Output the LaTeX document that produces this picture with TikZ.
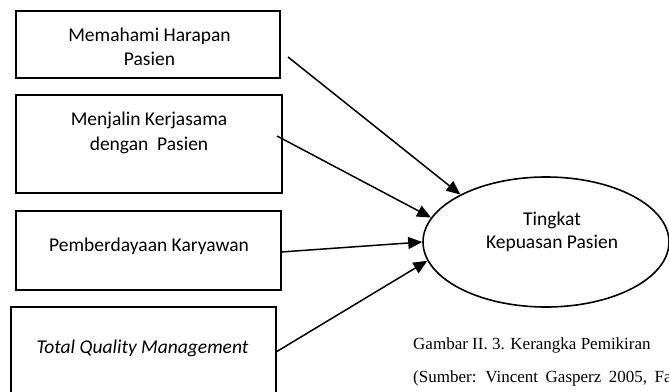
\documentclass[tikz,border=0pt]{standalone}
\usepackage{fontspec}
\setmainfont{Liberation Serif}
\newfontfamily\boxfont{Carlito}
\usetikzlibrary{arrows.meta,shapes.geometric}
\begin{document}
\begin{tikzpicture}[x=1pt,y=-1pt,
  box/.style={draw, line width=1.8pt, inner sep=0, outer sep=0},
  lbl/.style={font=\boxfont\fontsize{19.5}{23}\selectfont, anchor=base, inner sep=0},
  captxt/.style={font=\fontsize{17}{20}\selectfont, anchor=base west, inner sep=0},
  arr/.style={line width=1.5pt, -{Triangle[length=14pt,width=12pt]}}]
\useasboundingbox (0,0) rectangle (669,391);
% boxes
\node[box, minimum width=264pt, minimum height=67pt] (b1) at (148,44.5) {};
\node[box, minimum width=266pt, minimum height=98pt] (b2) at (149,144) {};
\node[box, minimum width=265pt, minimum height=79pt] (b3) at (148.5,250.5) {};
\node[box, minimum width=265pt, minimum height=93pt] (b4) at (143.5,353.5) {};
% box labels
\node[lbl] (t1a) at (149.5,41.5) {Memahami Harapan};
\node[lbl] (t1b) at (149.5,65.5) {Pasien};
\node[lbl] (t2a) at (149,125) {Menjalin Kerjasama};
\node[lbl] (t2b) at (149,150) {dengan\ \ Pasien};
\node[lbl] (t3) at (149,251.5) {Pemberdayaan Karyawan};
\node[lbl] (t4) at (142.5,353) {\itshape Total Quality Management};
% ellipse
\node[ellipse, draw, line width=1.6pt, minimum width=246pt, minimum height=130pt, inner sep=0] (ell) at (546,242) {};
\node[lbl] (e1) at (552,225) {Tingkat};
\node[lbl] (e2) at (552,248) {Kepuasan Pasien};
% arrow starts
\coordinate (s1) at (288,57);
\coordinate (s2) at (277,136);
\coordinate (s3) at (281,252);
\coordinate (s4) at (276,352);
\draw[arr] (s1) -- (ell.151.3);
\draw[arr] (s2) -- (ell.168);
\draw[arr] (s3) -- (ell.180);
\draw[arr] (s4) -- (ell.189);
% caption
\node[captxt] (c1) at (413,349) {Gambar II. 3. Kerangka Pemikiran};
\node[captxt] (c2) at (413,382) {\spaceskip=7.5pt (Sumber: Vincent Gasperz 2005, Fa};
\end{tikzpicture}
\end{document}
